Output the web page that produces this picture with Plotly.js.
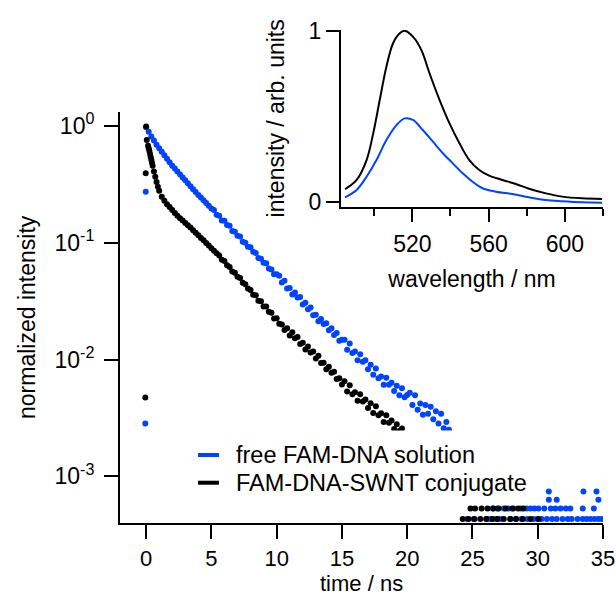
<!DOCTYPE html>
<html>
<head>
<meta charset="utf-8">
<script src="https://cdn.plot.ly/plotly-3.0.1.min.js"></script>
<style>html,body{margin:0;padding:0;background:#fff;}</style>
</head>
<body>
<div id="chart" style="width:616px;height:598px;"></div>
<script>
// ---- decay data: free FAM-DNA solution (blue) ----
const freeTime = [-0.06, -0.03,
  0, 0.2, 0.4, 0.6, 0.8, 1.0, 1.2, 1.4, 1.6, 1.8, 2.0, 2.2, 2.4, 2.6, 2.8, 3.0, 3.2, 3.4, 3.6, 3.8,
  4.0, 4.2, 4.4, 4.6, 4.8, 5.0, 5.2, 5.4, 5.6, 5.8, 6.0, 6.2, 6.4, 6.6, 6.8, 7.0, 7.2, 7.4, 7.6, 7.8,
  8.0, 8.2, 8.4, 8.6, 8.8, 9.0, 9.2, 9.4, 9.6, 9.8, 10.0, 10.2, 10.4, 10.6, 10.8, 11.0, 11.2, 11.4, 11.6, 11.8,
  12.0, 12.2, 12.4, 12.6, 12.8, 13.0, 13.2, 13.4, 13.6, 13.8, 14.0, 14.2, 14.4, 14.6, 14.8, 15.0, 15.2, 15.4, 15.6, 15.8,
  16.0, 16.2, 16.4, 16.6, 16.8, 17.0, 17.2, 17.4, 17.6, 17.8, 18.0, 18.2, 18.4, 18.6, 18.8, 19.0, 19.2, 19.4, 19.6, 19.8,
  20.0, 20.2, 20.4, 20.6, 20.8, 21.0, 21.2, 21.4, 21.6, 21.8, 22.0, 22.2, 22.4, 22.6, 22.8, 23.0, 23.2,
  24.6, 25.1, 26.15, 26.4, 26.85, 27.15, 27.9, 28.3, 28.75, 29.2, 29.7, 30.0, 30.3, 30.7, 31.1, 31.45, 31.9, 32.3, 32.6, 33.05, 33.45, 33.75, 34.05, 34.35, 34.65, 34.9,
  26.55, 26.9, 27.4, 27.75, 28.15, 28.7, 29.15, 29.45, 29.75, 30.05, 30.5, 31.0, 31.35, 31.75, 32.15, 32.5, 33.45, 34.3,
  30.85, 31.45, 34.65,
  30.85, 33.5, 34.5];
const freeIntensity = [0.00283, 0.273,
  0.977, 0.891, 0.813, 0.750, 0.692, 0.646, 0.603, 0.562, 0.525, 0.490, 0.457, 0.432, 0.407, 0.385, 0.363, 0.343, 0.324, 0.305, 0.288, 0.272,
  0.257, 0.244, 0.231, 0.219, 0.208, 0.197, 0.191, 0.174, 0.170, 0.155, 0.154, 0.142, 0.140, 0.126, 0.124, 0.115, 0.113, 0.102, 0.100, 0.0923,
  0.0916, 0.0838, 0.0817, 0.0740, 0.0731, 0.0675, 0.0667, 0.0601, 0.0589, 0.0538, 0.0537, 0.0521, 0.0456, 0.0474, 0.0406, 0.0410, 0.0361, 0.0375, 0.0340, 0.0343,
  0.0296, 0.0307, 0.0269, 0.0279, 0.0239, 0.0242, 0.0213, 0.0222, 0.0202, 0.0205, 0.0178, 0.0185, 0.0162, 0.0169, 0.0145, 0.0148, 0.0148, 0.0121, 0.0137, 0.0114,
  0.0117, 0.00984, 0.0111, 0.00955, 0.00984, 0.00826, 0.00904, 0.00740, 0.00838, 0.00693, 0.00716, 0.00608, 0.00697, 0.00607, 0.00634, 0.00538, 0.00596, 0.00494, 0.00568, 0.00476,
  0.00498, 0.00520, 0.00407, 0.00495, 0.00371, 0.00420, 0.00337, 0.00408, 0.00344, 0.00394, 0.00308, 0.00361, 0.00283, 0.00344, 0.00258, 0.00292, 0.00251,
  0.00043, 0.00043, 0.00043, 0.00043, 0.00043, 0.00043, 0.00043, 0.00043, 0.00043, 0.00043, 0.00043, 0.00043, 0.00043, 0.00043, 0.00043, 0.00043, 0.00043, 0.00043, 0.00043, 0.00043, 0.00043, 0.00043, 0.00043, 0.00043, 0.00043, 0.00043,
  0.00053, 0.00053, 0.00053, 0.00053, 0.00053, 0.00053, 0.00053, 0.00053, 0.00053, 0.00053, 0.00053, 0.00053, 0.00053, 0.00053, 0.00053, 0.00053, 0.00053, 0.00053,
  0.00063, 0.00063, 0.00063,
  0.00074, 0.00074, 0.00074];

// ---- decay data: FAM-DNA-SWNT conjugate (black) ----
const conjTime = [-0.06, -0.03,
  0, 0.05, 0.15, 0.2, 0.25, 0.3, 0.35, 0.4, 0.45, 0.5, 0.6, 0.7, 0.8, 0.9, 1.0,
  1.2, 1.4, 1.6, 1.8, 2.0, 2.2, 2.4, 2.6, 2.8, 3.0, 3.2, 3.4, 3.6, 3.8,
  4.0, 4.2, 4.4, 4.6, 4.8, 5.0, 5.2, 5.4, 5.6, 5.8, 6.0, 6.2, 6.4, 6.6, 6.8, 7.0, 7.2, 7.4, 7.6, 7.8,
  8.0, 8.2, 8.4, 8.6, 8.8, 9.0, 9.2, 9.4, 9.6, 9.8, 10.0, 10.2, 10.4, 10.6, 10.8, 11.0, 11.2, 11.4, 11.6, 11.8,
  12.0, 12.2, 12.4, 12.6, 12.8, 13.0, 13.2, 13.4, 13.6, 13.8, 14.0, 14.2, 14.4, 14.6, 14.8, 15.0, 15.2, 15.4, 15.6, 15.8,
  16.0, 16.2, 16.4, 16.6, 16.8, 17.0, 17.2, 17.4, 17.6, 17.8, 18.0, 18.2, 18.4, 18.6, 18.8, 19.0, 19.2, 19.4, 19.6,
  24.85, 25.2, 25.7, 26.15, 26.6, 27.0, 27.55, 28.05, 28.5, 28.9,
  24.25, 24.7, 25.15, 25.6, 26.05, 26.55, 26.9, 27.4, 27.9, 28.35, 28.85, 29.45, 30.05];
const conjIntensity = [0.00473, 0.394,
  0.989, 0.759, 0.676, 0.646, 0.610, 0.575, 0.543, 0.513, 0.484, 0.457, 0.407, 0.367, 0.331, 0.302, 0.279,
  0.248, 0.229, 0.214, 0.202, 0.191, 0.180, 0.170, 0.162, 0.155, 0.148, 0.141, 0.135, 0.128, 0.122,
  0.116, 0.110, 0.105, 0.0995, 0.0946, 0.0899, 0.0855, 0.0813, 0.0778, 0.0716, 0.0698, 0.0643, 0.0619, 0.0568, 0.0555, 0.0511, 0.0498, 0.0455, 0.0441, 0.0405,
  0.0394, 0.0359, 0.0356, 0.0318, 0.0316, 0.0284, 0.0285, 0.0256, 0.0252, 0.0225, 0.0226, 0.0203, 0.0200, 0.0179, 0.0185, 0.0161, 0.0171, 0.0152, 0.0156, 0.0136,
  0.0139, 0.0122, 0.0129, 0.0115, 0.0117, 0.0102, 0.0108, 0.00933, 0.00940, 0.00824, 0.00867, 0.00769, 0.00787, 0.00681, 0.00693, 0.00610, 0.00653, 0.00533, 0.00603, 0.00504,
  0.00524, 0.00443, 0.00505, 0.00437, 0.00454, 0.00384, 0.00423, 0.00349, 0.00398, 0.00333, 0.00346, 0.00292, 0.00333, 0.00288, 0.00300, 0.00254, 0.00279, 0.00244, 0.00257,
  0.00053, 0.00053, 0.00053, 0.00053, 0.00053, 0.00053, 0.00053, 0.00053, 0.00053, 0.00053,
  0.00043, 0.00043, 0.00043, 0.00043, 0.00043, 0.00043, 0.00043, 0.00043, 0.00043, 0.00043, 0.00043, 0.00043, 0.00043];

// ---- inset: emission spectra ----
const conjWavelength = [484.7, 490.8, 496.0, 499.5, 502.9, 506.4, 509.9, 513.4, 516.0, 520.3, 524.7, 529.0, 534.3, 539.5, 544.7, 549.9, 555.1, 560.3, 567.3, 574.3, 581.2, 590.1, 598.6, 609.0, 619.5];
const conjSpectrum = [0.076, 0.130, 0.246, 0.402, 0.596, 0.790, 0.927, 0.985, 1.0, 0.965, 0.888, 0.752, 0.596, 0.460, 0.344, 0.246, 0.188, 0.155, 0.130, 0.107, 0.079, 0.052, 0.033, 0.023, 0.019];
const freeWavelength = [484.7, 490.8, 496.0, 501.2, 506.4, 511.7, 516.0, 520.3, 525.5, 530.8, 536.0, 541.2, 546.4, 551.6, 556.8, 563.8, 572.5, 581.2, 590.1, 598.6, 609.0, 619.5];
const freeSpectrum = [0.029, 0.072, 0.149, 0.246, 0.363, 0.450, 0.489, 0.480, 0.421, 0.353, 0.286, 0.227, 0.169, 0.120, 0.082, 0.062, 0.048, 0.029, 0.013, 0.006, 0.000, -0.002];

// ---- labels / ticks ----
const seriesNames = ['free FAM-DNA solution', 'FAM-DNA-SWNT conjugate'];
const timeTitle = 'time / ns';
const timeTicks = [0, 5, 10, 15, 20, 25, 30, 35];
const logTickVals = [1, 0.1, 0.01, 0.001];
const logTickText = ['10<sup>0</sup>', '10<sup>-1</sup>', '10<sup>-2</sup>', '10<sup>-3</sup>'];
const wlTicks = [520, 560, 600];
const wlMinorTicks = [500, 540, 580, 620];
const insetTicks = [0, 1];

const BLUE = '#0044ff';
const BLACK = '#000000';
const FONT = 'Liberation Sans, Arial, Helvetica, sans-serif';
const FS = 23;

const traces = [
  {x: freeTime, y: freeIntensity, type: 'scatter', mode: 'markers', name: seriesNames[0],
   marker: {color: BLUE, size: 6}, xaxis: 'x', yaxis: 'y', showlegend: false},
  {x: conjTime, y: conjIntensity, type: 'scatter', mode: 'markers', name: seriesNames[1],
   marker: {color: BLACK, size: 6}, xaxis: 'x', yaxis: 'y', showlegend: false},
  {x: freeWavelength, y: freeSpectrum, type: 'scatter', mode: 'lines', name: seriesNames[0],
   line: {color: BLUE, width: 2, shape: 'spline'}, xaxis: 'x2', yaxis: 'y2', showlegend: false},
  {x: conjWavelength, y: conjSpectrum, type: 'scatter', mode: 'lines', name: seriesNames[1],
   line: {color: BLACK, width: 2, shape: 'spline'}, xaxis: 'x2', yaxis: 'y2', showlegend: false}
];

const axisCommon = {
  showline: true, linewidth: 2, linecolor: 'black', showgrid: false, zeroline: false,
  ticks: 'outside', tickwidth: 2, tickcolor: 'black', tickmode: 'array',
  tickfont: {family: FONT, size: FS, color: 'black'}
};

// legend drawn as a key box (white background hides the points behind it, like the original)
const legendColors = [BLUE, BLACK];
const legendRowsY = [0.1379, 0.0817];   // paper fractions
const shapes = [
  {type: 'rect', xref: 'paper', yref: 'paper', x0: 0.1449, x1: 0.8654, y0: 0.0365, y1: 0.1876,
   fillcolor: 'white', line: {width: 0}, layer: 'above'}
];
const annotations = [
  // x-axis title (placed below the tick labels, as in the original)
  {xref: 'paper', yref: 'paper', x: 0.5, y: -0.1231, xanchor: 'center', yanchor: 'middle', borderpad: 0,
   text: timeTitle, showarrow: false, font: {family: FONT, size: 22, color: 'black'}}
];
seriesNames.forEach((name, i) => {
  shapes.push({type: 'line', xref: 'paper', yref: 'paper', x0: 0.1615, x1: 0.2050,
               y0: legendRowsY[i], y1: legendRowsY[i], line: {color: legendColors[i], width: 4}, layer: 'above'});
  annotations.push({xref: 'paper', yref: 'paper', x: 0.236, y: legendRowsY[i], xanchor: 'left', yanchor: 'middle',
                    text: name, showarrow: false, font: {family: FONT, size: 23.5, color: 'black'}});
});

const layout = {
  width: 616, height: 598,
  margin: {l: 120, r: 13, t: 30, b: 75},
  paper_bgcolor: 'white', plot_bgcolor: 'rgba(0,0,0,0)',
  font: {family: FONT, size: FS, color: 'black'},
  showlegend: false,
  shapes: shapes,
  annotations: annotations,
  xaxis: Object.assign({}, axisCommon, {
    domain: [0, 1], range: [-2, 35], anchor: 'y', tickvals: timeTicks, ticklen: 14, ticklabelstandoff: 1,
    tickfont: {family: FONT, size: 22, color: 'black'}
  }),
  yaxis: Object.assign({}, axisCommon, {
    domain: [0, 0.8343], type: 'log', range: [-3.4, 0.1226], anchor: 'x',
    tickvals: logTickVals, ticktext: logTickText, ticklen: 14, ticklabelstandoff: 5,
    title: {text: 'normalized intensity', font: {family: FONT, size: FS}, standoff: 12}
  }),
  xaxis2: Object.assign({}, axisCommon, {
    domain: [0.4576, 1], range: [482.6, 620], anchor: 'y2', tickvals: wlTicks, ticklen: 13, ticklabelstandoff: 3,
    minor: {tickmode: 'array', tickvals: wlMinorTicks, ticks: 'outside', ticklen: 7, tickwidth: 2, tickcolor: 'black', showgrid: false},
    title: {text: 'wavelength / nm', font: {family: FONT, size: FS}}
  }),
  yaxis2: Object.assign({}, axisCommon, {
    domain: [0.6416, 1], range: [-0.0256, 1.004], anchor: 'x2', tickvals: insetTicks, ticklen: 13,
    title: {text: 'intensity / arb. units', font: {family: FONT, size: FS}}
  })
};

Plotly.newPlot('chart', traces, layout, {displayModeBar: false, staticPlot: true});
</script>
</body>
</html>
